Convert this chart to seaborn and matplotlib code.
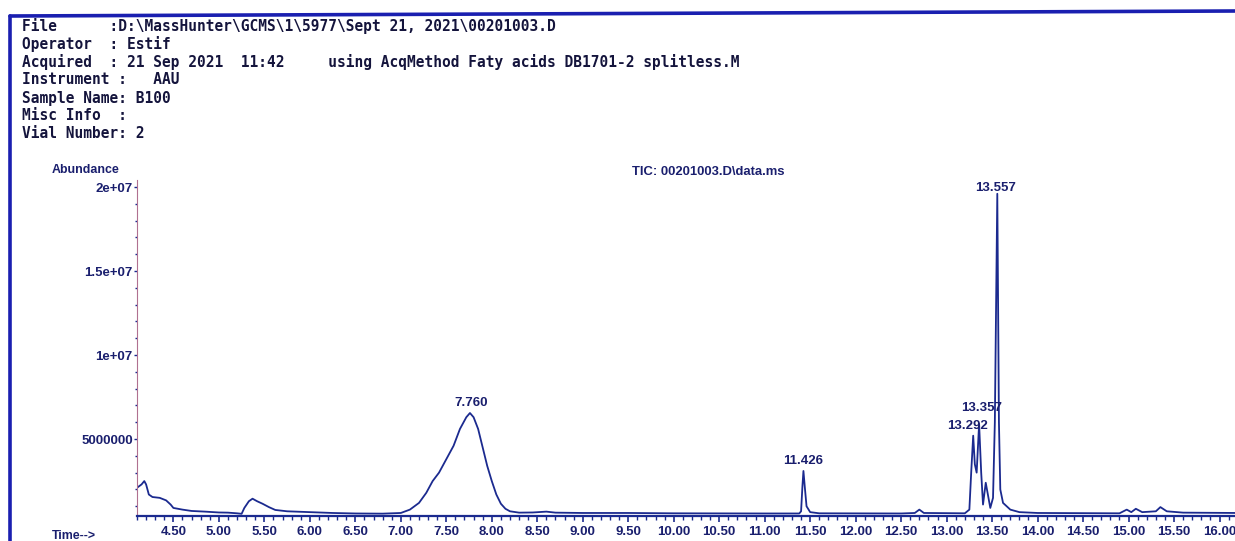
import numpy as np
import pandas as pd
import matplotlib
matplotlib.use("Agg")
import matplotlib.pyplot as plt
from matplotlib.lines import Line2D
from matplotlib.ticker import MultipleLocator, FixedLocator
import seaborn as sns

# ---- data (time in min, abundance) ----
time_min = [4.10, 4.15, 4.18, 4.20, 4.23, 4.27, 4.35, 4.42, 4.47, 4.50,
            4.60, 4.70, 4.85, 5.00, 5.10, 5.20, 5.25, 5.28, 5.33, 5.37,
            5.42, 5.48, 5.55, 5.62, 5.75, 6.00, 6.25, 6.50, 6.80, 7.00,
            7.10, 7.20, 7.28, 7.35, 7.42, 7.50, 7.58, 7.65, 7.72, 7.76,
            7.80, 7.85, 7.90, 7.95, 8.00, 8.05, 8.10, 8.15, 8.20, 8.30,
            8.45, 8.60, 8.70, 9.00, 9.50, 10.00, 11.00, 11.38, 11.40, 11.415,
            11.426, 11.44, 11.46, 11.50, 11.60, 12.50, 12.65, 12.70, 12.75, 13.20,
            13.25, 13.27, 13.292, 13.31, 13.33, 13.357, 13.38, 13.40, 13.43, 13.46,
            13.48, 13.51, 13.53, 13.557, 13.575, 13.59, 13.62, 13.70, 13.80, 14.00,
            14.90, 14.98, 15.03, 15.08, 15.15, 15.30, 15.35, 15.42, 15.60, 16.20]
abundance = [2.1e6, 2.3e6, 2.5e6, 2.3e6, 1.7e6, 1.55e6, 1.5e6, 1.35e6, 1.1e6, 0.9e6,
             0.8e6, 0.72e6, 0.68e6, 0.63e6, 0.62e6, 0.58e6, 0.55e6, 0.9e6, 1.3e6, 1.45e6,
             1.3e6, 1.15e6, 0.95e6, 0.78e6, 0.7e6, 0.65e6, 0.6e6, 0.57e6, 0.56e6, 0.6e6,
             0.8e6, 1.2e6, 1.8e6, 2.5e6, 3.0e6, 3.8e6, 4.6e6, 5.6e6, 6.3e6, 6.55e6,
             6.3e6, 5.6e6, 4.5e6, 3.4e6, 2.5e6, 1.7e6, 1.15e6, 0.85e6, 0.7e6, 0.62e6,
             0.63e6, 0.68e6, 0.62e6, 0.6e6, 0.6e6, 0.58e6, 0.57e6, 0.57e6, 0.7e6, 2.2e6,
             3.1e6, 2.2e6, 1.0e6, 0.65e6, 0.58e6, 0.57e6, 0.6e6, 0.8e6, 0.6e6, 0.58e6,
             0.8e6, 3.0e6, 5.2e6, 3.5e6, 3.0e6, 5.9e6, 3.0e6, 1.1e6, 2.4e6, 1.5e6,
             0.9e6, 1.5e6, 6.0e6, 1.96e7, 6.0e6, 2.0e6, 1.2e6, 0.8e6, 0.65e6, 0.6e6,
             0.58e6, 0.8e6, 0.65e6, 0.85e6, 0.65e6, 0.7e6, 0.95e6, 0.7e6, 0.62e6, 0.6e6]

peak_times = [7.760, 11.426, 13.292, 13.357, 13.557]
peak_labels = ["7.760", "11.426", "13.292", "13.357", "13.557"]
peak_heights = [6.55e6, 3.1e6, 5.2e6, 5.9e6, 1.96e7]

y_ticks = [5000000, 1e7, 1.5e7, 2e7]
y_tick_labels = ["5000000", "1e+07", "1.5e+07", "2e+07"]
x_ticks = [4.5 + 0.5 * i for i in range(24)]
x_tick_labels = [f"{t:.2f}" for t in x_ticks]

header_lines = [
    "File      :D:\\MassHunter\\GCMS\\1\\5977\\Sept 21, 2021\\00201003.D",
    "Operator  : Estif",
    "Acquired  : 21 Sep 2021  11:42     using AcqMethod Faty acids DB1701-2 splitless.M",
    "Instrument :   AAU",
    "Sample Name: B100",
    "Misc Info  :",
    "Vial Number: 2",
]
chart_title = "TIC: 00201003.D\\data.ms"

# ---- style ----
sns.set_theme(style="white")
plt.rcParams['font.family'] = ['Liberation Sans', 'DejaVu Sans']

NAVY = "#1b2a8f"
TEXT = "#1a1f6e"

W, H = 1235, 541
fig = plt.figure(figsize=(W / 100, H / 100), dpi=100)
fig.patch.set_facecolor("white")

ax = fig.add_axes([137 / W, 25 / H, (W - 137) / W, 336 / H])
df = pd.DataFrame({"time": time_min, "abundance": abundance})
sns.lineplot(data=df, x="time", y="abundance", ax=ax, color=NAVY, linewidth=1.3,
             estimator=None, sort=False)

ax.set_xlim(4.10, 16.17)
ax.set_ylim(0.42e6, 2.042e7)
ax.set_xlabel("")
ax.set_ylabel("")
ax.set_facecolor("white")

for s in ["top", "right"]:
    ax.spines[s].set_visible(False)
ax.spines["bottom"].set_color(NAVY)
ax.spines["bottom"].set_linewidth(1.6)
ax.spines["left"].set_color("#b07090")
ax.spines["left"].set_linewidth(0.8)

ax.xaxis.set_major_locator(FixedLocator(x_ticks))
ax.set_xticklabels(x_tick_labels)
ax.xaxis.set_minor_locator(MultipleLocator(0.1))
ax.yaxis.set_major_locator(FixedLocator(y_ticks))
ax.set_yticklabels(y_tick_labels)
ax.yaxis.set_minor_locator(MultipleLocator(1e6))

ax.tick_params(axis="x", which="major", bottom=True, direction="out", length=4, width=1.2,
               color=NAVY, labelsize=9.5, labelcolor=TEXT, pad=3)
ax.tick_params(axis="x", which="minor", bottom=True, direction="out", length=3, width=1.0,
               color=NAVY)
ax.tick_params(axis="y", which="major", left=True, direction="out", length=2, width=1.0,
               color=NAVY, labelsize=9.5, labelcolor=TEXT, pad=1)
ax.tick_params(axis="y", which="minor", left=True, direction="out", length=1.5, width=1.0,
               color=NAVY)
for lbl in ax.get_xticklabels() + ax.get_yticklabels():
    lbl.set_fontweight("bold")

# peak labels
offsets = {"7.760": (1, 3), "11.426": (0, 3), "13.292": (-4, 3),
           "13.357": (2, 7), "13.557": (-1, 0)}
for t, lab, h in zip(peak_times, peak_labels, peak_heights):
    dx, dy = offsets[lab]
    ax.annotate(lab, xy=(t, h), xytext=(dx, dy), textcoords="offset points",
                ha="center", va="bottom", fontsize=9.5, color=TEXT,
                fontweight="bold", annotation_clip=False)

# figure texts
fig.text(708 / W, 1 - 172 / H, chart_title, ha="center", va="center",
         fontsize=9.4, color=TEXT, fontweight="bold")
fig.text(52 / W, 1 - 170 / H, "Abundance", ha="left", va="center",
         fontsize=8.9, color=TEXT, fontweight="bold")
fig.text(52 / W, 1 - 536 / H, "Time-->", ha="left", va="center",
         fontsize=8.9, color=TEXT, fontweight="bold")

for i, line in enumerate(header_lines):
    fig.text(22 / W, 1 - (26 + 18 * i) / H, line, ha="left", va="center",
             fontsize=10.45, color="#14143c", fontweight="bold",
             family=["DejaVu Sans Mono"])

# blue frame
fig.add_artist(Line2D([10 / W, 1.0], [1 - 16 / H, 1 - 11 / H], color="#1a1fb0",
                      linewidth=2.6, transform=fig.transFigure))
fig.add_artist(Line2D([10 / W, 10 / W], [1 - 16 / H, 0.0], color="#1a1fb0",
                      linewidth=2.6, transform=fig.transFigure))

fig.savefig("out.png", dpi=100, facecolor="white")
